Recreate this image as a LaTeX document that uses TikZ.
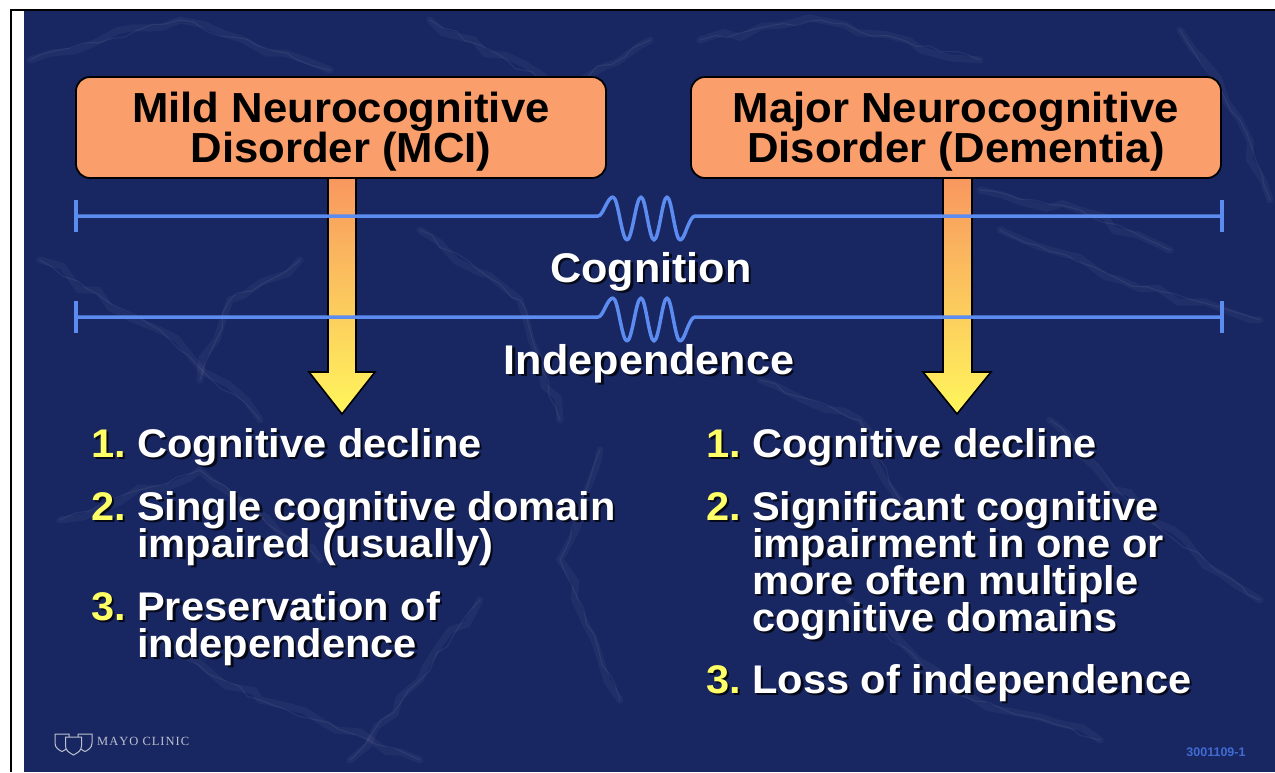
\documentclass[tikz,border=0pt]{standalone}
\usepackage{fontspec}
\setmainfont{Liberation Sans}
\newfontfamily\arialb{Liberation Sans}[FakeStretch=1.04]
\newfontfamily\serifm{Liberation Serif}
\usetikzlibrary{calc,decorations.pathmorphing}
\definecolor{bgnavy}{RGB}{24,38,98}
\definecolor{boxorange}{RGB}{250,158,108}
\definecolor{lineblue}{RGB}{92,140,240}
\definecolor{numyellow}{RGB}{255,255,102}
\definecolor{arrowtop}{RGB}{248,150,95}
\definecolor{arrowbot}{RGB}{255,246,92}
\definecolor{logogray}{RGB}{190,194,208}
\definecolor{codeblue}{RGB}{64,108,210}
\pgfdeclarelayer{bg}
\pgfdeclarelayer{arr}
\pgfsetlayers{bg,arr,main}
\newcommand\titlefont{\arialb\bfseries\fontsize{42}{40}\selectfont}
\newcommand\listfont{\arialb\bfseries\fontsize{40}{37}\selectfont}
\newcommand\labelfont{\arialb\bfseries\fontsize{41.5}{40}\selectfont}
\newcommand\mlines[1]{\vtop{\lineskiplimit=-100pt\baselineskip=37pt #1}}
\newcommand\shline[4]{%
  \node[lstsh] (#1s) at ($(#2,#3)+(2.5,2.5)$) {#4};
  \node[lst] (#1) at (#2,#3) {#4};}
\newcommand\shnum[4]{%
  \node[numsh] (#1s) at ($(#2,#3)+(2.5,2.5)$) {#4};
  \node[num] (#1) at (#2,#3) {#4};}
\newcommand\shlabel[4]{%
  \node[labsh] (#1s) at ($(#2,#3)+(2.5,2.5)$) {#4};
  \node[lab] (#1) at (#2,#3) {#4};}
\newcommand\mstreak[3]{\draw[streak] #1 -- #2 -- #3; \draw[vein] #1 -- #2 -- #3;}
\begin{document}
\begin{tikzpicture}[x=1pt,y=-1pt,
  titlebox/.style={draw=black, line width=1.8pt, fill=boxorange, rounded corners=14pt,
    minimum width=530pt, minimum height=101pt, align=center, font=\titlefont,
    text=black, inner sep=0pt, text depth=0pt},
  lst/.style={anchor=base west, text=white, font=\listfont, inner sep=0pt},
  lstsh/.style={lst, text=black, opacity=0.75},
  num/.style={anchor=base east, text=numyellow, font=\listfont, inner sep=0pt},
  numsh/.style={num, text=black, opacity=0.75},
  lab/.style={anchor=base, text=white, font=\labelfont, inner sep=0pt},
  labsh/.style={lab, text=black, opacity=0.75},
  scale line/.style={draw=lineblue, line width=3.5pt},
  bigarrow/.style={top color=arrowtop, bottom color=arrowbot, draw=black, line width=1.6pt, line join=miter},
  streak/.style={draw=white, opacity=0.045, line width=7pt, line cap=round, decorate,
    decoration={random steps, segment length=22pt, amplitude=6pt}},
  vein/.style={draw=white, opacity=0.06, line width=1.2pt, line cap=round, decorate,
    decoration={random steps, segment length=14pt, amplitude=3pt}},
  shield/.style={draw=logogray, line width=1pt, fill=bgnavy}
]
\useasboundingbox (0,0) rectangle (1275,772);
\begin{pgfonlayer}{bg}
  \fill[white] (0,0) rectangle (1275,772);
  \fill[bgnavy] (24,11) rectangle (1275,772);
  \fill[black] (10,9) rectangle (1275,11);
  \fill[black] (10,9) rectangle (12,772);
  % marble texture
  \pgfmathsetseed{7}
  \begin{scope}
    \clip (24,11) rectangle (1275,772);
    \mstreak{(30,60)}{(180,20)}{(330,70)}
    \mstreak{(40,260)}{(160,330)}{(260,420)}
    \mstreak{(60,520)}{(200,470)}{(320,560)}
    \mstreak{(150,640)}{(260,700)}{(420,760)}
    \mstreak{(430,20)}{(560,90)}{(650,40)}
    \mstreak{(420,230)}{(520,300)}{(560,420)}
    \mstreak{(600,450)}{(560,560)}{(620,700)}
    \mstreak{(700,40)}{(820,20)}{(980,60)}
    \mstreak{(1000,230)}{(1120,280)}{(1260,320)}
    \mstreak{(980,190)}{(1080,210)}{(1170,250)}
    \mstreak{(1050,420)}{(1150,520)}{(1260,600)}
    \mstreak{(850,600)}{(950,690)}{(1100,740)}
    \mstreak{(760,380)}{(860,420)}{(900,500)}
    \mstreak{(300,260)}{(230,300)}{(200,380)}
    \mstreak{(1180,30)}{(1240,120)}{(1270,200)}
    \mstreak{(480,600)}{(420,680)}{(350,760)}
  \end{scope}
\end{pgfonlayer}

% boxes
\node[titlebox] (boxL) at (341,127.5) {Mild Neurocognitive\\Disorder (MCI)};
\node[titlebox] (boxR) at (956,127.5) {Major Neurocognitive\\Disorder (Dementia)};

% arrows
\coordinate (tipL) at (342,414);
\coordinate (tipR) at (957,414);
\begin{pgfonlayer}{arr}
  \shade[bigarrow] ($(boxL.south)+(-13,-4)$) -- ($(boxL.south)+(15,-4)$) -- ($(tipL)+(14,-42)$)
    -- ($(tipL)+(33,-42)$) -- (tipL) -- ($(tipL)+(-33,-42)$) -- ($(tipL)+(-14,-42)$) -- cycle;
  \shade[bigarrow] ($(boxR.south)+(-13,-4)$) -- ($(boxR.south)+(16,-4)$) -- ($(tipR)+(15,-42)$)
    -- ($(tipR)+(34,-42)$) -- (tipR) -- ($(tipR)+(-34,-42)$) -- ($(tipR)+(-14,-42)$) -- cycle;
\end{pgfonlayer}

% scale lines with break
\foreach \yy/\nm in {216/c,317/i}{
  \coordinate (\nm L) at (76,\yy);
  \coordinate (\nm R) at (1222,\yy);
  \draw[scale line] ($(\nm L)+(0,-16)$) -- ($(\nm L)+(0,16)$);
  \draw[scale line] ($(\nm R)+(0,-16)$) -- ($(\nm R)+(0,16)$);
  \draw[scale line, line join=round] (\nm L) -- (598,\yy)
    cos (605,\yy-9) sin (613,\yy-19)
    cos (620,\yy+3) sin (627,\yy+24)
    cos (634,\yy+3) sin (641,\yy-19)
    cos (647.5,\yy+3) sin (654,\yy+24)
    cos (660.5,\yy+3) sin (667,\yy-19)
    cos (673.5,\yy+3) sin (680,\yy+24)
    cos (687,\yy+12) sin (695,\yy)
    -- (\nm R);
}

% center labels
\shlabel{cog}{651}{282}{Cognition}
\shlabel{ind}{649}{374}{Independence}

% left list
\shnum{nL1}{126}{457}{1.}
\shline{tL1}{137}{457}{Cognitive decline}
\shnum{nL2}{126}{520}{2.}
\shline{tL2}{137}{520}{\mlines{\hbox{Single cognitive domain}\hbox{impaired (usually)}}}
\shnum{nL3}{126}{620}{3.}
\shline{tL3}{137}{620}{\mlines{\hbox{Preservation of}\hbox{independence}}}

% right list
\shnum{nR1}{741}{457}{1.}
\shline{tR1}{752}{457}{Cognitive decline}
\shnum{nR2}{741}{520}{2.}
\shline{tR2}{752}{520}{\mlines{\hbox{Significant cognitive}\hbox{impairment in one or}\hbox{more often multiple}\hbox{cognitive domains}}}
\shnum{nR3}{741}{693}{3.}
\shline{tR3}{752}{693}{Loss of independence}

% logo
\draw[shield] (55,734) -- (69,734) -- (69,743) .. controls (69,748) and (65,750) .. (62,751.5) .. controls (59,750) and (55,748) .. (55,743) -- cycle;
\draw[shield] (78,734) -- (92,734) -- (92,743) .. controls (92,748) and (88,750) .. (85,751.5) .. controls (82,750) and (78,748) .. (78,743) -- cycle;
\draw[shield] (65.5,737) -- (81.5,737) -- (81.5,746) .. controls (81.5,751) and (77,753) .. (73.5,755) .. controls (70,753) and (65.5,751) .. (65.5,746) -- cycle;
\node[anchor=west, text=logogray, font=\serifm\fontsize{12.5}{14}\selectfont, inner sep=0pt] (mayo) at (97,741) {M\kern1ptA\kern1ptY\kern1ptO\kern1pt\ C\kern1ptL\kern1ptI\kern1ptN\kern1ptI\kern1ptC};
\node[text=codeblue, font=\bfseries\fontsize{12.5}{14}\selectfont, inner sep=0pt] (code) at (1216,752) {3001109-1};
\end{tikzpicture}
\end{document}
